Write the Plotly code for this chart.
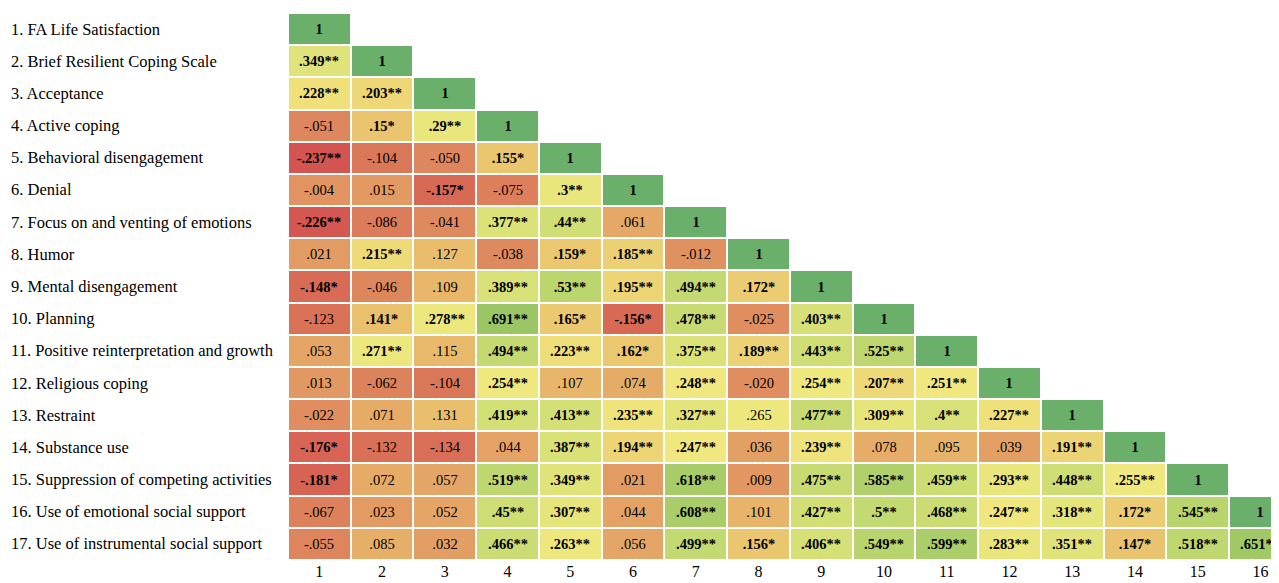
import plotly.graph_objects as go

row_labels = [
    "1. FA Life Satisfaction",
    "2. Brief Resilient Coping Scale",
    "3. Acceptance",
    "4. Active coping",
    "5. Behavioral disengagement",
    "6. Denial",
    "7. Focus on and venting of emotions",
    "8. Humor",
    "9. Mental disengagement",
    "10. Planning",
    "11. Positive reinterpretation and growth",
    "12. Religious coping",
    "13. Restraint",
    "14. Substance use",
    "15. Suppression of competing activities",
    "16. Use of emotional social support",
    "17. Use of instrumental social support",
]
col_labels = [str(i) for i in range(1, 17)]

cells = [
    ["1"],
    [".349**", "1"],
    [".228**", ".203**", "1"],
    ["-.051", ".15*", ".29**", "1"],
    ["-.237**", "-.104", "-.050", ".155*", "1"],
    ["-.004", ".015", "-.157*", "-.075", ".3**", "1"],
    ["-.226**", "-.086", "-.041", ".377**", ".44**", ".061", "1"],
    [".021", ".215**", ".127", "-.038", ".159*", ".185**", "-.012", "1"],
    ["-.148*", "-.046", ".109", ".389**", ".53**", ".195**", ".494**", ".172*", "1"],
    ["-.123", ".141*", ".278**", ".691**", ".165*", "-.156*", ".478**", "-.025", ".403**", "1"],
    [".053", ".271**", ".115", ".494**", ".223**", ".162*", ".375**", ".189**", ".443**", ".525**", "1"],
    [".013", "-.062", "-.104", ".254**", ".107", ".074", ".248**", "-.020", ".254**", ".207**", ".251**", "1"],
    ["-.022", ".071", ".131", ".419**", ".413**", ".235**", ".327**", ".265", ".477**", ".309**", ".4**", ".227**", "1"],
    ["-.176*", "-.132", "-.134", ".044", ".387**", ".194**", ".247**", ".036", ".239**", ".078", ".095", ".039", ".191**", "1"],
    ["-.181*", ".072", ".057", ".519**", ".349**", ".021", ".618**", ".009", ".475**", ".585**", ".459**", ".293**", ".448**", ".255**", "1"],
    ["-.067", ".023", ".052", ".45**", ".307**", ".044", ".608**", ".101", ".427**", ".5**", ".468**", ".247**", ".318**", ".172*", ".545**", "1"],
    ["-.055", ".085", ".032", ".466**", ".263**", ".056", ".499**", ".156*", ".406**", ".549**", ".599**", ".283**", ".351**", ".147*", ".518**", ".651**"],
]

ncol = len(col_labels)
nrow = len(row_labels)
z, txt = [], []
for r in cells:
    zr, tr = [], []
    for j in range(ncol):
        if j < len(r):
            s = r[j]
            zr.append(float(s.rstrip("*")))
            tr.append(f"<b>{s}</b>" if ("*" in s or s == "1") else s)
        else:
            zr.append(None)
            tr.append("")
    z.append(zr)
    txt.append(tr)

zmin, zmax = -0.237, 1.0
def pos(v):
    return (v - zmin) / (zmax - zmin)

colorscale = [
    [pos(-0.237), "rgb(211,84,80)"],
    [pos(-0.10), "rgb(219,120,89)"],
    [pos(0.0), "rgb(225,148,97)"],
    [pos(0.15), "rgb(234,196,110)"],
    [pos(0.25), "rgb(240,232,126)"],
    [pos(0.45), "rgb(206,222,116)"],
    [pos(0.65), "rgb(160,201,102)"],
    [pos(1.0), "rgb(106,176,106)"],
]

fig = go.Figure(go.Heatmap(
    z=z,
    x=list(range(1, ncol + 1)),
    y=list(range(1, nrow + 1)),
    text=txt,
    texttemplate="%{text}",
    textfont=dict(family="Liberation Serif", size=14.5, color="black"),
    colorscale=colorscale,
    zmin=zmin, zmax=zmax,
    showscale=False,
    xgap=2, ygap=2,
    hoverinfo="skip",
))

# page body has an 8px margin: compensate so the plot lands where the reference has it
OFF = 8
W = 1279 - OFF
H = 583 - OFF
L = 287.75 - OFF
T = 13 - OFF
PH = 547
fig.update_layout(
    width=W, height=H,
    margin=dict(l=L, r=0, t=T, b=H - T - PH, pad=0, autoexpand=False),
    plot_bgcolor="white", paper_bgcolor="white",
    font=dict(family="Liberation Serif", size=16, color="black"),
)
fig.update_xaxes(
    tickvals=list(range(1, ncol + 1)), ticktext=col_labels,
    range=[0.5, 0.5 + (W - L) / 62.75],
    showgrid=False, zeroline=False, showline=False, ticks="",
    automargin=False, ticklabelstandoff=0,
    tickfont=dict(family="Liberation Serif", size=16, color="black"),
)
fig.update_yaxes(
    range=[nrow + 0.5, 0.5], showticklabels=False, automargin=False,
    showgrid=False, zeroline=False, showline=False, ticks="",
)
for i, lab in enumerate(row_labels):
    fig.add_annotation(
        x=-(L - 1) / (W - L), xref="paper", xanchor="left",
        y=i + 1, yref="y", yanchor="middle",
        text=lab, showarrow=False,
        font=dict(family="Liberation Serif", size=16.5, color="black"),
    )

fig.write_html("out.html")
